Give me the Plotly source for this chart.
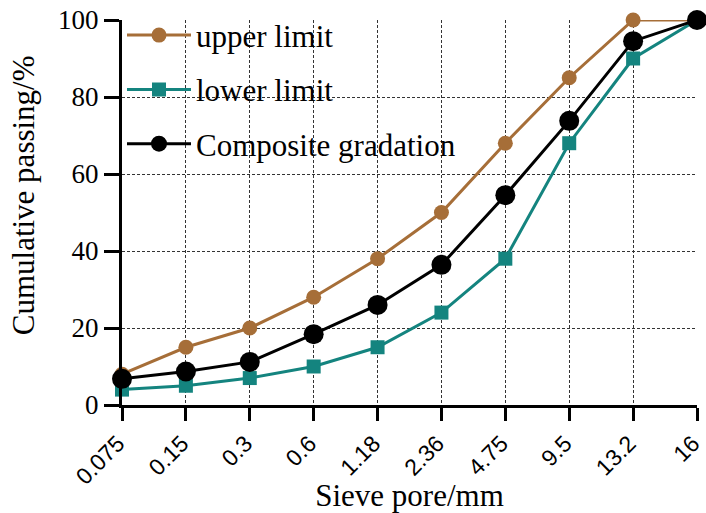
import plotly.graph_objects as go

sieve = ["0.075", "0.15", "0.3", "0.6", "1.18", "2.36", "4.75", "9.5", "13.2", "16"]
upper = [8, 15, 20, 28, 38, 50, 68, 85, 100, 100]
lower = [4, 5, 7, 10, 15, 24, 38, 68, 90, 100]
composite = [6.8, 8.7, 11.2, 18.4, 26.0, 36.4, 54.5, 73.8, 94.5, 100]

BROWN = "#A66E38"
TEAL = "#14847F"
SERIF = "'Liberation Serif', 'Times New Roman', 'DejaVu Serif', serif"
SANS = "'Liberation Sans', Arial, sans-serif"

fig = go.Figure()
fig.add_trace(go.Scatter(x=sieve, y=upper, name="upper limit", mode="lines+markers",
                         line=dict(color=BROWN, width=3), marker=dict(symbol="circle", size=15, color=BROWN),
                         legendgroup="a", cliponaxis=False))
fig.add_trace(go.Scatter(x=sieve, y=lower, name="lower limit", mode="lines+markers",
                         line=dict(color=TEAL, width=3), marker=dict(symbol="square", size=14, color=TEAL),
                         legendgroup="b", cliponaxis=False))
fig.add_trace(go.Scatter(x=sieve, y=composite, name="Composite gradation", mode="lines+markers",
                         line=dict(color="black", width=3), marker=dict(symbol="circle", size=20, color="black"),
                         legendgroup="c", cliponaxis=False))

fig.update_layout(
    width=706, height=513,
    margin=dict(l=122, r=9, t=20, b=108, autoexpand=False),
    paper_bgcolor="white", plot_bgcolor="white",
    font=dict(family=SERIF, color="black"),
    legend=dict(x=0.0, y=1.03, xanchor="left", yanchor="top", bgcolor="rgba(0,0,0,0)",
                font=dict(family=SERIF, size=31, color="black"), tracegroupgap=11,
                itemwidth=64),
    showlegend=True,
    annotations=[dict(text="Cumulative passing/%", textangle=-90, xref="paper", yref="paper",
                      x=-0.172, y=0.545, xanchor="center", yanchor="middle", showarrow=False,
                      font=dict(family=SERIF, size=31, color="black"))],
)
fig.update_xaxes(
    type="category", range=[0, 9], automargin=False,
    showline=True, linewidth=3, linecolor="black",
    ticks="outside", ticklen=13, tickwidth=3, tickcolor="black",
    tickangle=-45, tickfont=dict(family=SANS, size=23, color="black"),
    ticklabelshift=-4,
    showgrid=True, gridcolor="#333333", gridwidth=1, griddash="3px,2px",
    title=dict(text="Sieve pore/mm", font=dict(family=SERIF, size=31, color="black"), standoff=0),
    zeroline=False,
)
fig.update_yaxes(
    range=[0, 100], tickvals=[0, 20, 40, 60, 80, 100], automargin=False,
    showline=True, linewidth=3, linecolor="black",
    ticks="outside", ticklen=15, tickwidth=3, tickcolor="black",
    tickfont=dict(family=SERIF, size=27, color="black"),
    showgrid=True, gridcolor="#333333", gridwidth=1, griddash="3px,2px",
    zeroline=False,
)

fig.write_html("out.html")
